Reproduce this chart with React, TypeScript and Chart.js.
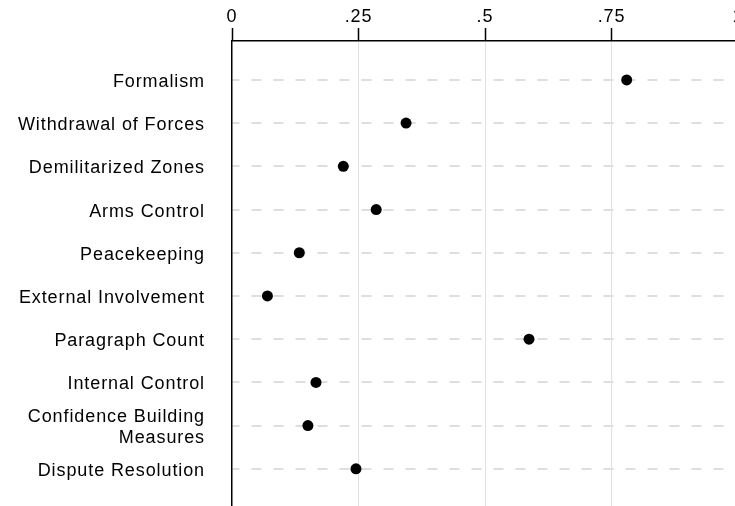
import { useEffect, useRef } from "react";
import { Chart, registerables } from "chart.js";

Chart.register(...registerables);

// Coefficient estimates by agreement feature
const categories: (string | string[])[] = [
  "Formalism",
  "Withdrawal of Forces",
  "Demilitarized Zones",
  "Arms Control",
  "Peacekeeping",
  "External Involvement",
  "Paragraph Count",
  "Internal Control",
  ["Confidence Building", "Measures"],
  "Dispute Resolution",
];
const values = [0.78, 0.344, 0.22, 0.285, 0.133, 0.07, 0.587, 0.166, 0.15, 0.245];
const xTickValues = [0, 0.25, 0.5, 0.75, 1];
const xTickLabels = ["0", ".25", ".5", ".75", "1"];

const FONT = { family: "'Liberation Sans', Arial, Helvetica, sans-serif", size: 18 };

const letterSpacingPlugin = {
  id: "letterSpacing",
  beforeDraw(chart: any) {
    chart.ctx.letterSpacing = "0.9px";
  },
};

export default function App() {
  const ref = useRef<HTMLCanvasElement>(null);

  useEffect(() => {
    if (!ref.current) return;
    const points = values.map((v, i) => ({ x: v, y: i + 1 }));
    const chart = new Chart(ref.current, {
      type: "scatter",
      data: {
        datasets: [
          {
            data: points,
            backgroundColor: "#000",
            borderWidth: 0,
            pointRadius: 5.5,
          },
        ],
      },
      plugins: [letterSpacingPlugin],
      options: {
        animation: false,
        responsive: false,
        maintainAspectRatio: false,
        devicePixelRatio: 1,
        layout: { padding: { left: 0, top: 0, right: 7, bottom: 14 } },
        plugins: { legend: { display: false }, tooltip: { enabled: false } },
        scales: {
          x: {
            type: "linear",
            position: "top",
            min: 0,
            max: 1,
            afterBuildTicks: (scale: any) => {
              scale.ticks = xTickValues.map((v) => ({ value: v }));
            },
            afterFit: (scale: any) => {
              scale.height = 41;
              scale.paddingLeft = 0;
              scale.paddingRight = 0;
            },
            ticks: {
              color: "#000",
              font: FONT,
              padding: 0,
              maxRotation: 0,
              autoSkip: false,
              callback: (v: any) => {
                const i = xTickValues.indexOf(Number(v));
                return i >= 0 ? xTickLabels[i] : "";
              },
            },
            grid: {
              color: (ctx: any) =>
                ctx.tick && ctx.tick.value === 0 ? "rgba(0,0,0,0)" : "#e0e0e0",
              lineWidth: 1,
              tickColor: "#000",
              tickWidth: 1.5,
              tickLength: 13,
            },
            border: { display: true, color: "#000", width: 1.5 },
          },
          y: {
            type: "linear",
            reverse: true,
            min: 0.1,
            max: 10.86,
            afterBuildTicks: (scale: any) => {
              scale.ticks = categories.map((_, i) => ({ value: i + 1 }));
            },
            afterFit: (scale: any) => {
              scale.width = 232;
              scale.paddingTop = 0;
              scale.paddingBottom = 0;
            },
            ticks: {
              color: "#000",
              font: FONT,
              padding: 27,
              labelOffset: 2,
              autoSkip: false,
              callback: (v: any) => categories[Number(v) - 1] ?? "",
            },
            grid: {
              color: "#dedede",
              lineWidth: 2,
              drawTicks: false,
            },
            border: { display: true, color: "#000", width: 1.5, dash: [10, 12], dashOffset: 3 },
          },
        },
      },
    });
    return () => chart.destroy();
  }, []);

  return (
    <div
      style={{
        position: "fixed",
        left: 0,
        top: 0,
        width: 745,
        height: 520,
        overflow: "hidden",
        background: "#fff",
      }}
    >
      <canvas ref={ref} width={745} height={520} style={{ display: "block", width: 745, height: 520 }} />
    </div>
  );
}
